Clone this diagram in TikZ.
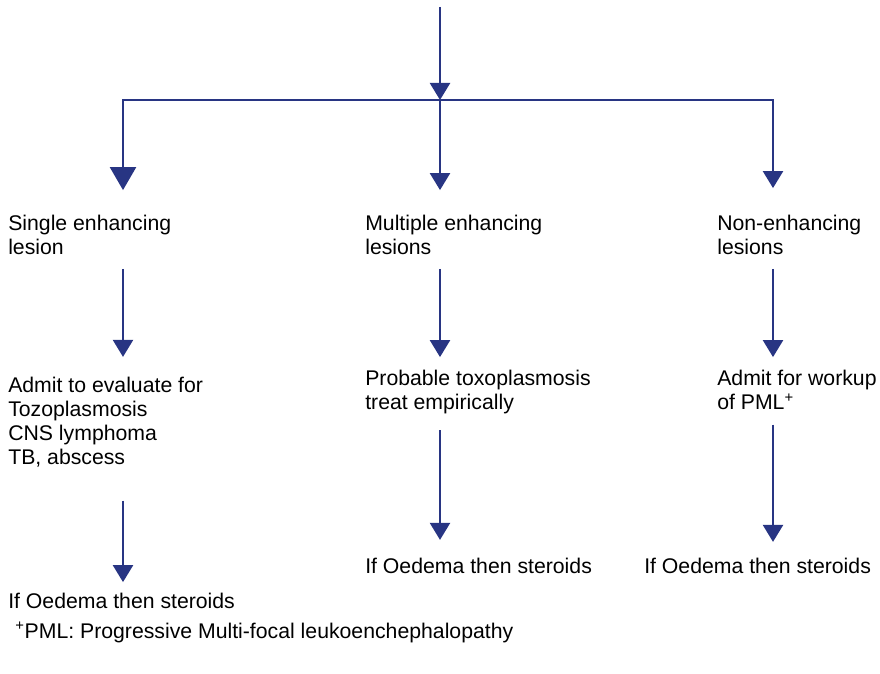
\documentclass[tikz,border=0pt]{standalone}
\usepackage{fontspec}
\setmainfont{Liberation Sans}
\usetikzlibrary{arrows.meta}

\definecolor{flowblue}{RGB}{40,53,131}

\begin{document}
\begin{tikzpicture}[x=0.025cm, y=-0.025cm,
    txt/.style={anchor=north west, inner sep=0pt, align=left,
                font=\fontsize{15.1}{17.2}\selectfont},
    link/.style={draw=flowblue, line width=1.7pt},
    arr/.style={link, -{Triangle[width=0.5cm, length=0.425cm]}},
    bigarr/.style={link, -{Triangle[width=0.65cm, length=0.575cm]}}]
  \useasboundingbox (0,0) rectangle (880,674);

  % branch columns
  \coordinate (src)  at (440,7);
  \coordinate (hub)  at (440,100);
  \coordinate (colL) at (123,100);
  \coordinate (colM) at (440,100);
  \coordinate (colR) at (773,100);

  \node (single) [txt] at (8,214.5)   {Single enhancing\\lesion};
  \node (multi)  [txt] at (365,214.5) {Multiple enhancing\\lesions};
  \node (nonenh) [txt] at (717,214.5) {Non-enhancing\\lesions};

  \node (admitL) [txt] at (8,376.5)   {Admit to evaluate for\\Tozoplasmosis\\CNS lymphoma\\TB, abscess};
  \node (prob)   [txt] at (365,369.5) {Probable toxoplasmosis\\treat empirically};
  \node (workup) [txt] at (717,369.5) {Admit for workup\\of PML\textsuperscript{+}};

  \node (oedL) [txt] at (8,592.5)   {If Oedema then steroids};
  \node (oedM) [txt] at (365,557.5) {If Oedema then steroids};
  \node (oedR) [txt] at (644,557.5) {If Oedema then steroids};

  \node (note) [txt] at (15,622)
        {\textsuperscript{+}PML: Progressive Multi-focal leukoenchephalopathy};

  \draw[arr] (src) -- (hub);
  \draw[bigarr, shorten >=0.61cm] (hub) -| (colL |- single.north);
  \draw[arr, shorten >=0.61cm] (hub) -- (colM |- multi.north);
  \draw[arr, shorten >=0.66cm] (hub) -| (colR |- nonenh.north);

  \draw[arr, shorten <=0.35cm, shorten >=0.49cm] (colL |- single.south) -- (colL |- admitL.north);
  \draw[arr, shorten <=0.35cm, shorten >=0.31cm] (colM |- multi.south)  -- (colM |- prob.north);
  \draw[arr, shorten <=0.35cm, shorten >=0.31cm] (colR |- nonenh.south) -- (colR |- workup.north);

  \draw[arr, shorten <=0.82cm, shorten >=0.26cm] (colL |- admitL.south) -- (colL |- oedL.north);
  \draw[arr, shorten <=0.40cm, shorten >=0.44cm] (colM |- prob.south)   -- (colM |- oedM.north);
  \draw[arr, shorten <=0.37cm, shorten >=0.39cm] (colR |- workup.south) -- (colR |- oedR.north);
\end{tikzpicture}
\end{document}
